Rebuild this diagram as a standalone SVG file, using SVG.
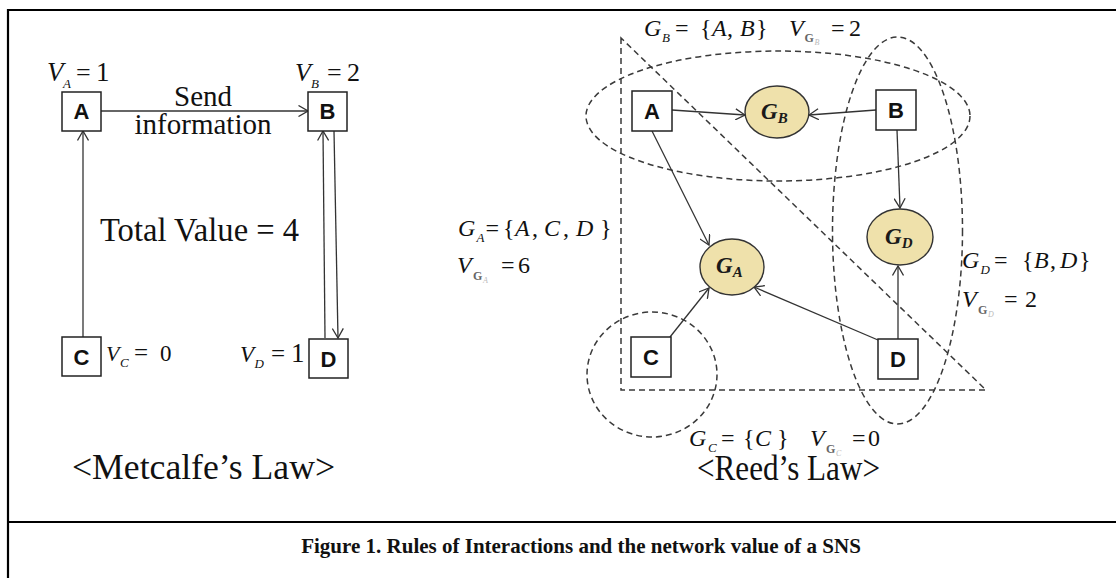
<svg xmlns="http://www.w3.org/2000/svg" width="1116" height="578" viewBox="0 0 1116 578">
<style>
.frame{stroke:#000;stroke-width:2.2;fill:none}
.box{fill:#fff;stroke:#222;stroke-width:1.5}
.bl{font-family:"Liberation Sans",Arial,sans-serif;font-weight:bold;font-size:22px;fill:#111;text-anchor:middle}
.ell{fill:#EFE1AB;stroke:#333;stroke-width:1.4}
.gl{font-family:"Liberation Serif","Times New Roman",serif;font-weight:bold;font-style:italic;font-size:23px;fill:#1a1a1a}
.con{stroke:#333;stroke-width:1.3;fill:none;marker-end:url(#arr)}
.dash{stroke:#3a3a3a;stroke-width:1.5;fill:none;stroke-dasharray:6 4}
.m{font-family:"Liberation Serif","Times New Roman",serif;font-size:24px;fill:#111}
.i{font-style:italic}
.s{font-style:italic;font-size:13px}
.sg{font-weight:bold;font-size:12px;fill:#666}
.ss{font-style:italic;font-size:8px;fill:#bbb}
.big{font-family:"Liberation Serif","Times New Roman",serif;fill:#111}
</style>
<defs>
<marker id="arr" viewBox="0 0 11 12" refX="10" refY="6" markerWidth="11" markerHeight="12" markerUnits="userSpaceOnUse" orient="auto">
<path d="M0.5,0.5 L10,6 L0.5,11.5" fill="none" stroke="#333" stroke-width="1.3"/>
</marker>
</defs>
<rect width="1116" height="578" fill="#fff"/>
<g id="frame">
<path class="frame" d="M8,578 V10 H1116 M8,522 H1116"/>
</g>

<g id="reed-groups">
<polygon class="dash" points="621,38 621,390 986,390"/>
<ellipse class="dash" cx="778" cy="116" rx="192" ry="65"/>
<ellipse class="dash" cx="897.5" cy="230.5" rx="65" ry="193.5"/>
<ellipse class="dash" cx="652" cy="374.5" rx="65" ry="62.5"/>
</g>

<g id="connectors">
<line class="con" x1="100" y1="111" x2="308" y2="111"/>
<line class="con" x1="83" y1="337" x2="83" y2="131"/>
<line class="con" x1="325" y1="338" x2="323" y2="131"/>
<line class="con" x1="334" y1="131" x2="338" y2="338"/>
<line class="con" x1="672" y1="110" x2="745" y2="115"/>
<line class="con" x1="876" y1="110" x2="809" y2="115"/>
<line class="con" x1="652" y1="131" x2="709" y2="245"/>
<line class="con" x1="897" y1="130" x2="900" y2="208"/>
<line class="con" x1="670" y1="337" x2="709" y2="288"/>
<line class="con" x1="878" y1="340" x2="754" y2="287"/>
<line class="con" x1="898" y1="339" x2="898" y2="266"/>
</g>

<g id="m-A"><rect class="box" x="62" y="92" width="39" height="39"/><text class="bl" x="81.5" y="119">A</text></g>
<g id="m-B"><rect class="box" x="308" y="92" width="39" height="39"/><text class="bl" x="327.5" y="119">B</text></g>
<g id="m-C"><rect class="box" x="62" y="337" width="39" height="39"/><text class="bl" x="81.5" y="365">C</text></g>
<g id="m-D"><rect class="box" x="309" y="339" width="39" height="39"/><text class="bl" x="328.5" y="367">D</text></g>

<g id="r-A"><rect class="box" x="632" y="91" width="40" height="40"/><text class="bl" x="652" y="119">A</text></g>
<g id="r-B"><rect class="box" x="876" y="90" width="40" height="40"/><text class="bl" x="896" y="118">B</text></g>
<g id="r-C"><rect class="box" x="631" y="337" width="40" height="40"/><text class="bl" x="651" y="365">C</text></g>
<g id="r-D"><rect class="box" x="878" y="339" width="40" height="40"/><text class="bl" x="898" y="367">D</text></g>

<g id="r-GB"><ellipse class="ell" cx="777" cy="112" rx="32" ry="26"/><text class="gl" x="761" y="119">G<tspan font-size="15" dy="4">B</tspan></text></g>
<g id="r-GA"><ellipse class="ell" cx="732" cy="267" rx="32" ry="28"/><text class="gl" x="716" y="273">G<tspan font-size="15" dy="4">A</tspan></text></g>
<g id="r-GD"><ellipse class="ell" cx="900" cy="237" rx="33" ry="28"/><text class="gl" x="885" y="244">G<tspan font-size="15" dy="4">D</tspan></text></g>

<g id="metcalfe-labels">
<text class="big" x="203" y="106" font-size="29" text-anchor="middle">Send</text>
<text class="big" x="203" y="134" font-size="29" text-anchor="middle">information</text>
<text class="big" x="100" y="241" font-size="33" textLength="199" lengthAdjust="spacingAndGlyphs">Total Value = 4</text>
<text class="m"><tspan class="i" x="47" y="81" font-size="27">V</tspan><tspan class="s" x="63" y="88">A</tspan><tspan x="76" y="81" font-size="26">=</tspan><tspan x="96" y="81" font-size="27">1</tspan></text>
<text class="m"><tspan class="i" x="295" y="81" font-size="26">V</tspan><tspan class="s" x="311" y="88">B</tspan><tspan x="327" y="81" font-size="26">=</tspan><tspan x="347" y="81" font-size="26">2</tspan></text>
<text class="m"><tspan class="i" x="106" y="361" font-size="22">V</tspan><tspan class="s" x="120" y="367" font-size="11">C</tspan><tspan x="134" y="361" font-size="25">=</tspan><tspan x="160" y="361" font-size="23">0</tspan></text>
<text class="m"><tspan class="i" x="240" y="362" font-size="23">V</tspan><tspan class="s" x="254.5" y="368" font-size="11">D</tspan><tspan x="271" y="362" font-size="25">=</tspan><tspan x="291" y="362" font-size="27">1</tspan></text>
<text class="big" x="72" y="479" font-size="36" textLength="263" lengthAdjust="spacingAndGlyphs">&lt;Metcalfe’s Law&gt;</text>
</g>

<g id="reed-labels">
<text class="m"><tspan class="i" x="644" y="36">G</tspan><tspan class="s" x="662" y="42">B</tspan><tspan x="675" y="36">=</tspan><tspan x="700" y="36">{</tspan><tspan class="i" x="712" y="36">A</tspan><tspan x="727" y="36">,</tspan><tspan class="i" x="740" y="36">B</tspan><tspan x="756" y="36">}</tspan><tspan class="i" x="789" y="36">V</tspan><tspan class="sg" x="804.5" y="42">G</tspan><tspan class="ss" x="814.5" y="45">B</tspan><tspan x="831" y="36">=</tspan><tspan x="849" y="36">2</tspan></text>

<text class="m" font-size="25"><tspan class="i" x="458" y="236">G</tspan><tspan class="s" x="476.5" y="242">A</tspan><tspan x="485.5" y="236">=</tspan><tspan x="503" y="236">{</tspan><tspan class="i" x="515" y="236">A</tspan><tspan x="532" y="236">,</tspan><tspan class="i" x="544" y="236">C</tspan><tspan x="563" y="236">,</tspan><tspan class="i" x="576" y="236">D</tspan><tspan x="600" y="236">}</tspan></text>
<text class="m" font-size="25"><tspan class="i" x="457" y="273">V</tspan><tspan class="sg" x="473" y="280">G</tspan><tspan class="ss" x="483" y="283">A</tspan><tspan x="501" y="273">=</tspan><tspan x="518" y="273">6</tspan></text>

<text class="m" font-size="25"><tspan class="i" x="962" y="268">G</tspan><tspan class="s" x="980.5" y="274">D</tspan><tspan x="994" y="268">=</tspan><tspan x="1022" y="268">{</tspan><tspan class="i" x="1034" y="268">B</tspan><tspan x="1050" y="268">,</tspan><tspan class="i" x="1060" y="268">D</tspan><tspan x="1079" y="268">}</tspan></text>
<text class="m" font-size="25"><tspan class="i" x="962" y="307">V</tspan><tspan class="sg" x="978" y="314">G</tspan><tspan class="ss" x="988" y="317">D</tspan><tspan x="1004" y="307">=</tspan><tspan x="1025" y="307">2</tspan></text>

<text class="m" font-size="25"><tspan class="i" x="689" y="446">G</tspan><tspan class="s" x="708" y="452">C</tspan><tspan x="721" y="446">=</tspan><tspan x="743" y="446">{</tspan><tspan class="i" x="755" y="446">C</tspan><tspan x="777" y="446">}</tspan><tspan class="i" x="810" y="446">V</tspan><tspan class="sg" x="826" y="453">G</tspan><tspan class="ss" x="836" y="456">C</tspan><tspan x="852" y="446">=</tspan><tspan x="868" y="446">0</tspan></text>

<text class="big" x="697" y="480" font-size="36" textLength="183" lengthAdjust="spacingAndGlyphs">&lt;Reed’s Law&gt;</text>
</g>

<g id="caption">
<text class="big" x="581" y="553" font-size="21" font-weight="bold" text-anchor="middle">Figure 1. Rules of Interactions and the network value of a SNS</text>
</g>
</svg>
